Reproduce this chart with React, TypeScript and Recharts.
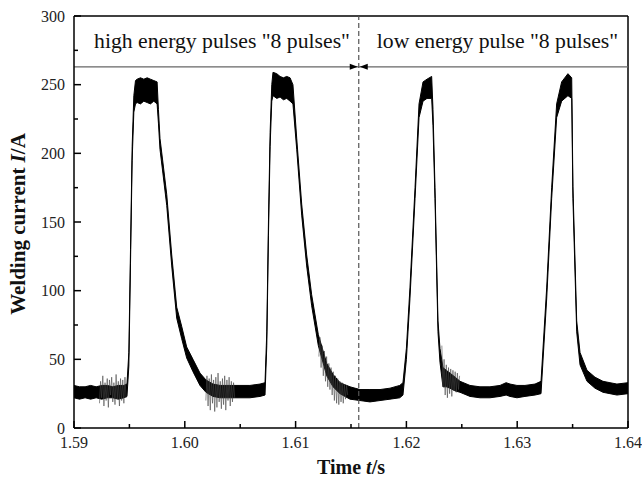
import { ComposedChart, Area, Line, XAxis, YAxis, ReferenceLine, ReferenceDot, Label } from "recharts";

// sampled welding current trace: time (s), lower / upper edge of the noisy band (A)
const times = [
  1.59, 1.5905, 1.591, 1.5915, 1.592, 1.5925, 1.593, 1.5935, 1.594, 1.5945, 1.59478,
  1.59495, 1.5951, 1.59525, 1.5954, 1.59555,
  1.5957, 1.596, 1.5963, 1.5966, 1.5969, 1.5972, 1.5975,
  1.59762, 1.59776, 1.59803, 1.59837, 1.59882, 1.59927, 1.59972, 1.60017, 1.60074, 1.60137, 1.60191,
  1.60254, 1.60318, 1.60408, 1.60498, 1.60588, 1.60679, 1.60724,
  1.6074, 1.60755, 1.6077, 1.60785, 1.60796,
  1.6083, 1.6086, 1.6089, 1.6092, 1.6095, 1.60976,
  1.6101, 1.61055, 1.611, 1.61145, 1.61205, 1.61281, 1.61338, 1.61401, 1.61491,
  1.61581, 1.61671, 1.61762, 1.61852, 1.6194, 1.61969,
  1.62, 1.62032, 1.62078, 1.62114, 1.6215, 1.62186, 1.62228,
  1.6224, 1.62258, 1.62285, 1.62303, 1.6233, 1.6236, 1.62393, 1.6244, 1.62484,
  1.62574, 1.62664, 1.62754, 1.62845, 1.629, 1.62935, 1.62998, 1.6307, 1.63161, 1.63215,
  1.63266, 1.63311, 1.63356, 1.63401, 1.63458, 1.63492,
  1.63503, 1.63537, 1.63567, 1.6363, 1.63702, 1.63774, 1.63837, 1.639, 1.64,
];
const lower = [
  22, 21, 22, 21, 22, 21, 22, 22, 21, 22, 23,
  45, 120, 195, 230, 236,
  237, 236, 238, 237, 236, 238, 236,
  222, 203, 185, 162, 118, 80, 65, 51, 41, 31, 26,
  23, 22, 22, 22, 22, 23, 24,
  60, 140, 205, 238, 242,
  240, 241, 239, 240, 238, 236,
  203, 155, 118, 89, 60, 38, 30, 25, 21,
  20, 19, 20, 21, 22, 24,
  50, 94, 167, 226, 238, 240, 240,
  220, 167, 70, 48, 30, 30, 29, 27, 26,
  23, 22, 22, 23, 24, 23, 22, 23, 24, 25,
  94, 167, 226, 238, 242, 240,
  167, 70, 46, 34, 29, 26, 25, 24, 25,
];
const upper = [
  31, 30, 30, 31, 30, 31, 31, 30, 31, 31, 32,
  55, 130, 205, 242, 253,
  254, 255, 254, 255, 254, 253, 252,
  232, 211, 193, 170, 126, 88, 74, 59, 50, 40, 35,
  32, 31, 31, 31, 31, 32, 33,
  70, 150, 215, 250, 259,
  258, 256, 255, 256, 255, 250,
  211, 163, 126, 97, 68, 47, 39, 33, 30,
  28, 28, 28, 29, 31, 33,
  58, 102, 175, 236, 252, 254, 256,
  232, 175, 78, 58, 44, 42, 40, 37, 34,
  31, 30, 30, 31, 33, 32, 31, 31, 32, 34,
  102, 175, 236, 252, 258, 255,
  176, 78, 55, 42, 37, 34, 33, 32, 33,
];

// sparse noise spikes around the transitions (null splits the bursts)
const spikeTimes = [
  1.5923, 1.5924, 1.5925, 1.5926, 1.5927, 1.5928, 1.5929, 1.593, 1.5931, 1.5932, 1.5933, 1.5934, 1.5935,
  1.5936, 1.5937, 1.5938, 1.5939, 1.594, 1.5941, 1.5942, 1.5943, 1.5944, 1.5945, 1.5946, 1.5947, 1.59475,
  1.6019, 1.602, 1.6021, 1.6022, 1.6023, 1.6024, 1.6025, 1.6026, 1.6027, 1.6028, 1.6029, 1.603, 1.6031,
  1.6032, 1.6033, 1.6034, 1.6035, 1.6036, 1.6037, 1.6038, 1.6039, 1.604, 1.6041, 1.6042, 1.6043, 1.6044, 1.6045, 1.60455,
  1.6121, 1.6122, 1.6123, 1.6124, 1.6125, 1.6126, 1.6127, 1.6128, 1.6129, 1.613, 1.6131, 1.6132, 1.6133,
  1.6134, 1.6135, 1.6136, 1.6137, 1.6138, 1.6139, 1.614, 1.6141, 1.6142, 1.6143, 1.6144, 1.6145, 1.6146, 1.6147, 1.61475,
  1.6232, 1.6233, 1.6234, 1.6235, 1.6236, 1.6237, 1.6238, 1.6239, 1.624, 1.6241, 1.6242, 1.6243, 1.6244,
  1.6245, 1.6246, 1.6247, 1.6248,
];
const spikeValues = [
  18, 34, 22, 38, 16, 33, 20, 36, 15, 35, 24, 37, 19,
  33, 17, 39, 21, 34, 16, 36, 20, 35, 18, 37, 22, null,
  20, 38, 16, 36, 13, 39, 18, 35, 12, 37, 15, 40, 19,
  34, 14, 36, 17, 38, 13, 35, 20, 37, 16, 34, 19, 33, 22, null,
  52, 66, 44, 60, 38, 56, 34, 52, 30, 47, 28, 44, 24,
  41, 20, 38, 18, 36, 17, 34, 19, 33, 18, 32, 21, 31, 24, null,
  60, 30, 50, 24, 46, 22, 44, 25, 43, 23, 42, 27, 41,
  26, 40, 28, 38,
];

const xTicks = [1.59, 1.595, 1.6, 1.605, 1.61, 1.615, 1.62, 1.625, 1.63, 1.635, 1.64];
const xLabeled = [1.59, 1.6, 1.61, 1.62, 1.63, 1.64];
const yTicks = [0, 25, 50, 75, 100, 125, 150, 175, 200, 225, 250, 275, 300];
const yLabeled = [0, 50, 100, 150, 200, 250, 300];

const dividerTime = 1.6157;
const arrowLevel = 263;
const leftNote = 'high energy pulses "8 pulses"';
const rightNote = 'low energy pulse "8 pulses"';

const SERIF = '"Liberation Serif", "Times New Roman", serif';

// chart frame (margins + axis sizes below define the plot box)
const W = 642;
const H = 479;
const MARGIN = { top: 16, right: 14, bottom: 6, left: 0 };
const Y_AXIS_W = 74;
const X_AXIS_H = 45;
const X_DOMAIN = [1.59, 1.64];
const Y_DOMAIN = [0, 300];
const plotLeft = MARGIN.left + Y_AXIS_W;
const plotRight = W - MARGIN.right;
const plotTop = MARGIN.top;
const plotBottom = H - MARGIN.bottom - X_AXIS_H;

const bandRows = times.map((t, i) => ({ t, band: [lower[i], upper[i]] }));
const spikeRows = spikeTimes.map((t, i) => ({ t, v: spikeValues[i] }));

const isMajorX = (v: number) => xLabeled.some((m) => Math.abs(m - v) < 1e-9);
const xToPx = (t: number) => plotLeft + ((t - X_DOMAIN[0]) / (X_DOMAIN[1] - X_DOMAIN[0])) * (plotRight - plotLeft);
const yToPx = (v: number) => plotBottom - ((v - Y_DOMAIN[0]) / (Y_DOMAIN[1] - Y_DOMAIN[0])) * (plotBottom - plotTop);

function XTick(props: any) {
  const { x, y, payload } = props;
  if (!isMajorX(payload.value)) return <g />;
  return (
    <text x={x} y={y + 20} textAnchor="middle" fontFamily={SERIF} fontSize={16} fill="#222">
      {payload.value.toFixed(2)}
    </text>
  );
}

function YTick(props: any) {
  const { x, y, payload } = props;
  if (!yLabeled.includes(payload.value)) return <g />;
  return (
    <text x={x} y={y + 5.5} textAnchor="end" fontFamily={SERIF} fontSize={16} fill="#222">
      {payload.value}
    </text>
  );
}

// inward tick marks, laid over the chart on the same axis geometry
function InwardTicks() {
  return (
    <svg width={W} height={H} style={{ position: "absolute", left: 0, top: 0, pointerEvents: "none" }}>
      {xTicks.map((t) => {
        const x = xToPx(t);
        const len = isMajorX(t) ? 7 : 4;
        return <line key={`x${t}`} x1={x} x2={x} y1={plotBottom} y2={plotBottom - len} stroke="#000" strokeWidth={1.5} />;
      })}
      {yTicks.map((v) => {
        const y = yToPx(v);
        const len = yLabeled.includes(v) ? 7 : 4;
        return <line key={`y${v}`} x1={plotLeft} x2={plotLeft + len} y1={y} y2={y} stroke="#000" strokeWidth={1.5} />;
      })}
    </svg>
  );
}

export default function App() {
  return (
    <div style={{ position: "absolute", left: 0, top: 0, width: W, height: H, background: "#fff" }}>
      <ComposedChart width={W} height={H} data={bandRows} margin={MARGIN}>
        <XAxis
          dataKey="t"
          type="number"
          domain={X_DOMAIN}
          allowDataOverflow
          ticks={xTicks}
          interval={0}
          height={X_AXIS_H}
          tickSize={0}
          tickMargin={0}
          tickLine={false}
          tick={XTick}
          axisLine={{ stroke: "#000", strokeWidth: 1.5 }}
        >
          <Label
            content={(p: any) => {
              const vb = p.viewBox;
              return (
                <text x={vb.x + vb.width / 2} y={vb.y + 46} textAnchor="middle" fontFamily={SERIF} fontSize={20} fontWeight="bold" fill="#111">
                  Time <tspan fontStyle="italic">t</tspan>/s
                </text>
              );
            }}
          />
        </XAxis>
        <YAxis
          type="number"
          domain={Y_DOMAIN}
          allowDataOverflow
          ticks={yTicks}
          interval={0}
          width={Y_AXIS_W}
          tickSize={0}
          tickMargin={9}
          tickLine={false}
          tick={YTick}
          axisLine={{ stroke: "#000", strokeWidth: 1.5 }}
        >
          <Label
            content={(p: any) => {
              const vb = p.viewBox;
              const cx = 25;
              const cy = vb.y + vb.height / 2 + 2;
              return (
                <text x={cx} y={cy} transform={`rotate(-90 ${cx} ${cy})`} textAnchor="middle" fontFamily={SERIF} fontSize={21} fontWeight="bold" fill="#111">
                  Welding current <tspan fontStyle="italic">I</tspan>/A
                </text>
              );
            }}
          />
        </YAxis>

        <ReferenceLine y={300} stroke="#000" strokeWidth={1.5} />
        <ReferenceLine x={1.64} stroke="#000" strokeWidth={1.5} />
        <ReferenceLine y={arrowLevel} stroke="#666" strokeWidth={1.2} />
        <ReferenceLine x={dividerTime} stroke="#555" strokeWidth={1.2} strokeDasharray="5 3" />

        <Area
          dataKey="band"
          type="linear"
          fill="#000"
          fillOpacity={1}
          stroke="#000"
          strokeWidth={1}
          dot={false}
          activeDot={false}
          isAnimationActive={false}
        />
        <Line
          data={spikeRows}
          dataKey="v"
          type="linear"
          stroke="#444"
          strokeWidth={0.6}
          dot={false}
          activeDot={false}
          connectNulls={false}
          isAnimationActive={false}
        />

        <ReferenceDot
          x={dividerTime}
          y={arrowLevel}
          shape={(p: any) => (
            <g fill="#000">
              <path d={`M${p.cx - 1},${p.cy} L${p.cx - 9},${p.cy - 3} L${p.cx - 9},${p.cy + 3} Z`} />
              <path d={`M${p.cx + 1},${p.cy} L${p.cx + 9},${p.cy - 3} L${p.cx + 9},${p.cy + 3} Z`} />
            </g>
          )}
        />
        <ReferenceDot
          x={1.60336}
          y={277}
          shape={(p: any) => (
            <text x={p.cx} y={p.cy} textAnchor="middle" fontFamily={SERIF} fontSize={21.7} fill="#111">
              {leftNote}
            </text>
          )}
        />
        <ReferenceDot
          x={1.62822}
          y={277}
          shape={(p: any) => (
            <text x={p.cx} y={p.cy} textAnchor="middle" fontFamily={SERIF} fontSize={21.7} fill="#111">
              {rightNote}
            </text>
          )}
        />
      </ComposedChart>
      <InwardTicks />
    </div>
  );
}
